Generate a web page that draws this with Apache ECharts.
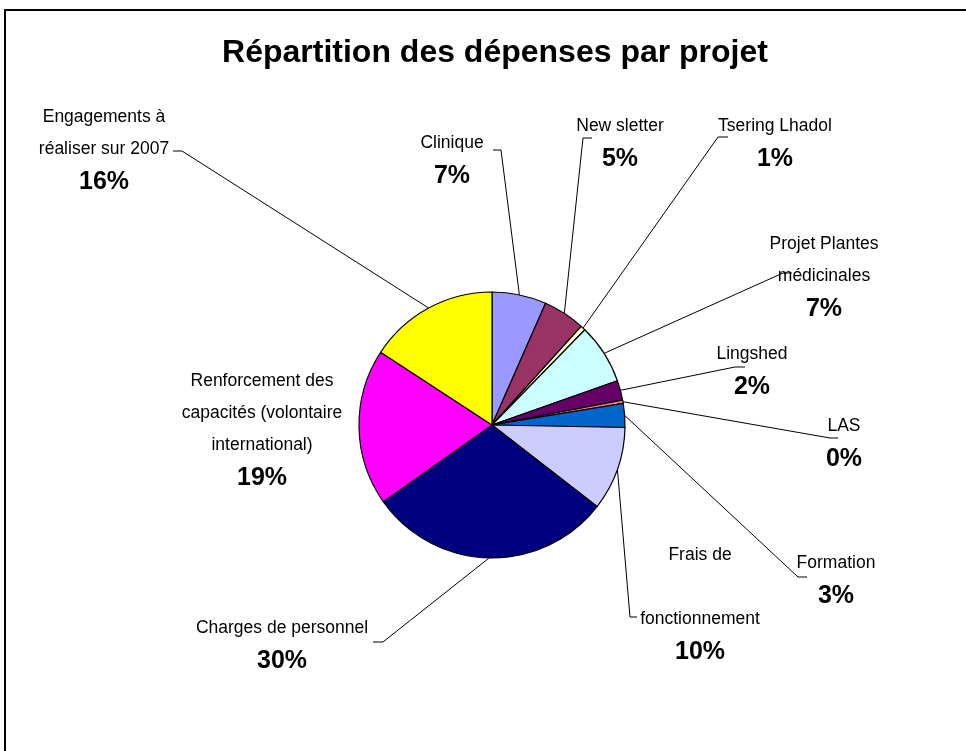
<!DOCTYPE html>
<html>
<head>
<meta charset="utf-8">
<script src="https://cdn.jsdelivr.net/npm/echarts@6/dist/echarts.min.js"></script>
<style>
html, body { margin: 0; padding: 0; background: #fff; }
#chart { width: 966px; height: 751px; }
</style>
</head>
<body>
<div id="chart"></div>
<script>
// shares in %, clockwise from 12 o'clock
const categories = [
    'Clinique',
    'New sletter',
    'Tsering Lhadol',
    'Projet Plantes\nmédicinales',
    'Lingshed',
    'LAS',
    'Formation',
    'Frais de\n\nfonctionnement',
    'Charges de personnel',
    'Renforcement des\ncapacités (volontaire\ninternational)',
    'Engagements à\nréaliser sur 2007'
]
const values = [6.6, 5.1, 0.6, 7.3, 2.4, 0.4, 2.9, 10.2, 29.7, 19.0, 15.8]
const colors = ['#9999FF', '#993366', '#FFFFCC', '#CCFFFF', '#660066', '#FF8080',
    '#0066CC', '#CCCCFF', '#000080', '#FF00FF', '#FFFF00']

// centre of each label block
const labelPos = [
    [452, 160], [620, 143], [775, 143], [824, 277], [752, 371], [844, 443],
    [836, 580], [700, 604], [282, 645], [262, 430], [104, 150]
]
// label side of the leader lines: elbow, then end (slice side comes from the pie)
const leaderEnds = [
    [[501, 150], [493, 150]],
    [[583, 138], [592, 138]],
    [[718, 137], [728, 137]],
    [[783, 273], [792, 273]],
    [[735, 367], [745, 367]],
    [[830, 438], [838, 438]],
    [[798, 577], [807, 577]],
    [[630, 617], [637, 617]],
    [[383, 642], [373, 642]],
    null,
    [[182, 151], [173, 151]]
]

const chart = echarts.init(document.getElementById('chart'))

const pieData = categories.map((name, i) => {
    const item = { name: name, value: values[i], itemStyle: { color: colors[i] } }
    if (!leaderEnds[i]) item.labelLine = { show: false } // Renforcement : pas de trait
    return item
})

chart.setOption({
    animation: false,
    backgroundColor: '#fff',
    textStyle: { fontFamily: '"Liberation Sans", Arial, sans-serif' },
    graphic: [
        {
            type: 'rect',
            shape: { x: 5, y: 10, width: 1000, height: 800 },
            style: { fill: 'none', stroke: '#000', lineWidth: 2 },
            silent: true
        },
        {
            type: 'text',
            x: 495, y: 53,
            style: {
                text: 'Répartition des dépenses par projet',
                font: 'bold 32px "Liberation Sans", Arial, sans-serif',
                fill: '#000',
                align: 'center',
                verticalAlign: 'middle'
            },
            silent: true
        }
    ],
    series: [{
        type: 'pie',
        center: [492, 425],
        radius: 133,
        startAngle: 90,
        clockwise: true,
        percentPrecision: 1,
        avoidLabelOverlap: false,
        itemStyle: { borderColor: '#000', borderWidth: 1.2 },
        label: {
            show: true,
            position: 'outside',
            color: '#000',
            formatter: p => '{n|' + p.name + '}\n{p|' + Math.round(p.percent) + '%}',
            rich: {
                n: { fontSize: 17.5, lineHeight: 32, align: 'center', color: '#000',
                    fontFamily: '"Liberation Sans", Arial, sans-serif' },
                p: { fontSize: 25, fontWeight: 'bold', lineHeight: 34, align: 'center', color: '#000',
                    fontFamily: '"Liberation Sans", Arial, sans-serif' }
            }
        },
        labelLine: {
            show: true,
            length: 10,
            length2: 8,
            smooth: false,
            lineStyle: { color: '#000', width: 1 }
        },
        labelLayout: params => {
            const i = params.dataIndex
            const out = {
                x: labelPos[i][0],
                y: labelPos[i][1],
                align: 'center',
                verticalAlign: 'middle'
            }
            const ends = leaderEnds[i]
            if (ends && params.labelLinePoints) {
                out.labelLinePoints = [params.labelLinePoints[0].slice(), ends[0], ends[1]]
            }
            return out
        },
        data: pieData
    }]
})
</script>
</body>
</html>
